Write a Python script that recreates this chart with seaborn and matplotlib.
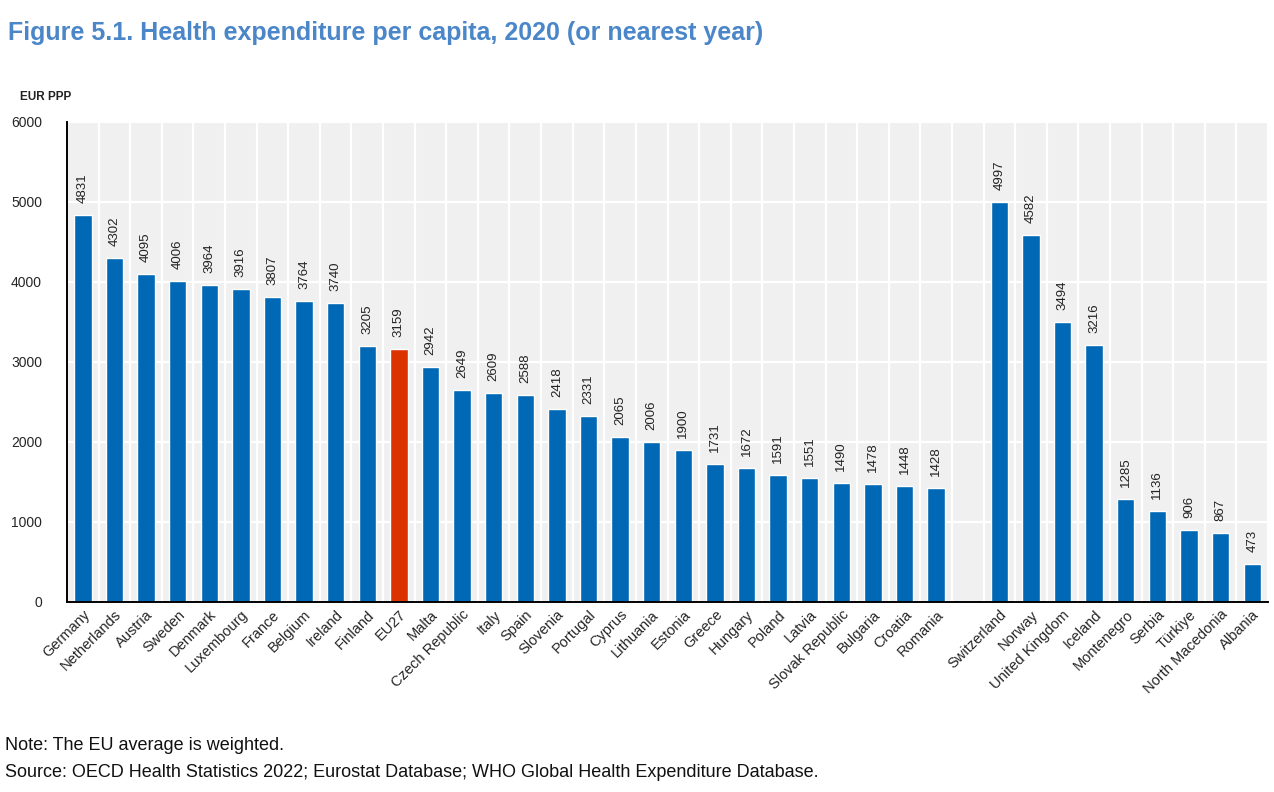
import matplotlib
matplotlib.use("Agg")
import matplotlib.pyplot as plt
import matplotlib.font_manager as fm
import pandas as pd
import seaborn as sns

# data
eu_countries = ["Germany", "Netherlands", "Austria", "Sweden", "Denmark", "Luxembourg",
                "France", "Belgium", "Ireland", "Finland", "EU27", "Malta",
                "Czech Republic", "Italy", "Spain", "Slovenia", "Portugal", "Cyprus",
                "Lithuania", "Estonia", "Greece", "Hungary", "Poland", "Latvia",
                "Slovak Republic", "Bulgaria", "Croatia", "Romania"]
eu_values = [4831, 4302, 4095, 4006, 3964, 3916, 3807, 3764, 3740, 3205, 3159, 2942,
             2649, 2609, 2588, 2418, 2331, 2065, 2006, 1900, 1731, 1672, 1591, 1551,
             1490, 1478, 1448, 1428]
other_countries = ["Switzerland", "Norway", "United Kingdom", "Iceland", "Montenegro",
                   "Serbia", "Türkiye", "North Macedonia", "Albania"]
other_values = [4997, 4582, 3494, 3216, 1285, 1136, 906, 867, 473]

names = [f.name for f in fm.fontManager.ttflist]
narrow = "Liberation Sans Narrow" if "Liberation Sans Narrow" in names else "Liberation Sans"

sns.set_theme(style="white")
plt.rcParams["font.family"] = [narrow, "DejaVu Sans"]

df = pd.DataFrame({"country": eu_countries + other_countries,
                   "value": eu_values + other_values})
df["group"] = ["avg" if c == "EU27" else "country" for c in df["country"]]
order = eu_countries + [" "] + other_countries

fig = plt.figure(figsize=(12.74, 7.92), dpi=100)
ax = fig.add_axes([0.0526, 0.2399, 0.9427, 0.6061])
ax.set_facecolor("#f0f0f0")

sns.barplot(data=df, x="country", y="value", hue="group", order=order,
            palette={"country": "#0068b5", "avg": "#db3300"}, width=0.55,
            dodge=False, legend=False, saturation=1, ax=ax)

# vertical separators between categories
n = len(order)
for i in range(n + 1):
    ax.axvline(i - 0.5, color="white", lw=1.6, zorder=0)
for yv in range(1000, 6001, 1000):
    ax.axhline(yv, color="white", lw=1.6, zorder=0)
ax.set_axisbelow(True)

# value labels
for cont in ax.containers:
    for bar in cont:
        h = bar.get_height()
        if h != h or h == 0:
            continue
        ax.text(bar.get_x() + bar.get_width() / 2, h + 150, f"{int(h)}",
                rotation=90, ha="center", va="bottom", fontsize=9.5, color="#222222")

ax.set_xlim(-0.5, n - 0.5)
ax.set_ylim(0, 6000)
ax.set_yticks(range(0, 6001, 1000))
ax.set_yticklabels([str(v) for v in range(0, 6001, 1000)], fontsize=10)
ax.set_xticks(range(n))
ax.set_xticklabels(order, rotation=45, ha="right", rotation_mode="anchor", fontsize=10.5)
ax.set_xticks([i - 0.5 for i in range(n + 1)], minor=True)
ax.tick_params(axis="x", which="major", length=0, pad=4)
ax.tick_params(axis="x", which="minor", direction="in", length=5, width=1.2, color="black")
ax.tick_params(axis="y", direction="in", length=5, width=1.2, color="black", pad=18)
ax.set_xlabel("")
ax.set_ylabel("")
for s in ["top", "right"]:
    ax.spines[s].set_visible(False)
for s in ["left", "bottom"]:
    ax.spines[s].set_color("black")
    ax.spines[s].set_linewidth(1.4)

fig.text(0.006, 0.958, "Figure 5.1. Health expenditure per capita, 2020 (or nearest year)",
         fontsize=18, fontweight="bold", color="#4a86c8", va="center")
fig.text(0.016, 0.877, "EUR PPP", fontsize=8.5, fontweight="bold", color="#222222", va="center")
fig.text(0.004, 0.059, "Note: The EU average is weighted.", fontsize=13, color="#111111", va="center")
fig.text(0.004, 0.024, "Source: OECD Health Statistics 2022; Eurostat Database; WHO Global Health Expenditure Database.",
         fontsize=13, color="#111111", va="center")

fig.savefig("out.png", dpi=100)
